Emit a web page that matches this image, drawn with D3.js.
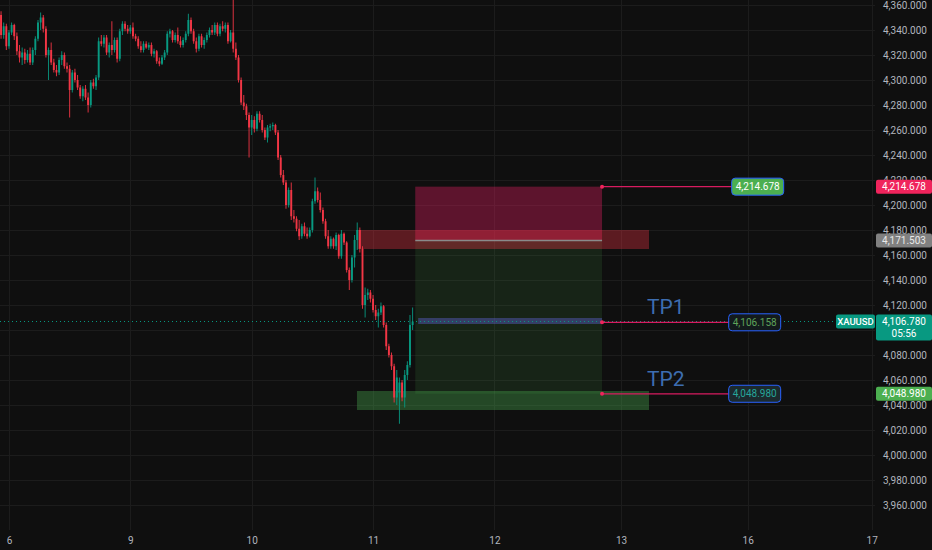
<!DOCTYPE html>
<html>
<head>
<meta charset="utf-8">
<script src="https://d3js.org/d3.v7.min.js"></script>
<style>
  html, body { margin: 0; padding: 0; background: #0f0f0f; }
  svg { display: block; font-family: Roboto, "Liberation Sans", sans-serif; }
</style>
</head>
<body>
<div id="chart"></div>
<script>
// 30 minute bars, [open, high, low, close]
var candles = [
  [4352,4355,4333,4336],[4336,4346,4333,4343],[4343,4345,4324,4327],[4327,4340,4325,4338],
  [4338,4346,4336,4344],[4344,4345,4332,4335],[4335,4338,4320,4323],[4323,4328,4314,4318],
  [4318,4326,4312,4322],[4322,4325,4313,4316],[4316,4324,4314,4321],[4321,4326,4312,4314],
  [4314,4326,4312,4324],[4324,4335,4320,4333],[4333,4348,4331,4346],[4346,4354,4340,4350],
  [4350,4352,4338,4341],[4341,4343,4318,4320],[4320,4326,4300,4324],[4324,4330,4312,4314],
  [4314,4317,4306,4308],[4308,4312,4303,4306],[4306,4318,4304,4316],[4316,4323,4312,4320],
  [4320,4322,4309,4311],[4311,4314,4306,4309],[4309,4312,4270,4292],[4292,4308,4290,4306],
  [4306,4309,4298,4300],[4300,4304,4292,4294],[4294,4296,4285,4287],[4287,4295,4283,4293],
  [4293,4296,4284,4286],[4286,4290,4274,4280],[4280,4300,4278,4298],[4298,4301,4293,4295],
  [4295,4304,4292,4302],[4302,4334,4300,4331],[4331,4336,4327,4329],[4329,4336,4326,4334],
  [4334,4336,4320,4322],[4322,4330,4318,4328],[4328,4347,4320,4324],[4324,4334,4322,4332],
  [4332,4334,4314,4317],[4317,4341,4315,4339],[4339,4347,4336,4345],[4345,4347,4339,4341],
  [4341,4344,4337,4339],[4339,4344,4337,4342],[4342,4346,4333,4335],[4335,4337,4331,4333],
  [4333,4335,4325,4327],[4327,4331,4322,4324],[4324,4331,4322,4329],[4329,4331,4325,4326],
  [4326,4330,4324,4328],[4328,4330,4319,4321],[4321,4325,4318,4323],[4323,4324,4313,4315],
  [4315,4318,4311,4313],[4313,4320,4312,4318],[4318,4324,4316,4322],[4322,4339,4320,4337],
  [4337,4341,4334,4339],[4339,4340,4330,4332],[4332,4338,4330,4336],[4336,4342,4329,4331],
  [4331,4335,4326,4328],[4328,4334,4326,4332],[4332,4339,4330,4337],[4337,4353,4335,4348],
  [4348,4350,4337,4339],[4339,4341,4329,4331],[4331,4334,4322,4325],[4325,4337,4323,4335],
  [4335,4337,4326,4328],[4328,4334,4325,4332],[4332,4338,4330,4336],[4336,4342,4334,4340],
  [4340,4344,4336,4338],[4338,4346,4336,4344],[4344,4346,4335,4337],[4337,4345,4335,4343],
  [4343,4347,4339,4341],[4341,4346,4338,4344],[4344,4346,4329,4331],[4331,4340,4330,4338],
  [4338,4368,4322,4325],[4325,4330,4316,4318],[4318,4320,4298,4300],[4300,4302,4280,4282],
  [4282,4288,4276,4279],[4279,4281,4268,4272],[4272,4274,4238,4262],[4262,4272,4256,4268],
  [4268,4271,4258,4261],[4261,4275,4259,4273],[4273,4275,4266,4268],[4268,4272,4258,4260],
  [4260,4262,4252,4254],[4254,4264,4250,4262],[4262,4265,4259,4263],[4263,4266,4260,4264],
  [4264,4265,4256,4258],[4258,4260,4236,4238],[4238,4240,4222,4224],[4224,4228,4216,4218],
  [4218,4220,4197,4200],[4200,4214,4198,4212],[4212,4218,4188,4191],[4191,4196,4186,4189],
  [4189,4191,4179,4181],[4181,4188,4172,4175],[4175,4185,4173,4183],[4183,4186,4175,4177],
  [4177,4182,4173,4175],[4175,4182,4174,4180],[4180,4205,4178,4203],[4203,4222,4201,4211],
  [4211,4214,4202,4204],[4204,4210,4194,4196],[4196,4198,4185,4187],[4187,4189,4173,4175],
  [4175,4180,4165,4167],[4167,4175,4165,4173],[4173,4174,4165,4167],[4167,4178,4164,4176],
  [4176,4177,4157,4159],[4159,4180,4157,4177],[4177,4178,4168,4170],[4170,4171,4146,4148],
  [4148,4150,4132,4140],[4140,4160,4138,4158],[4158,4176,4150,4172],[4172,4186,4164,4180],
  [4180,4182,4162,4165],[4165,4167,4117,4120],[4120,4134,4110,4128],[4128,4133,4124,4130],
  [4130,4132,4122,4125],[4125,4128,4114,4116],[4116,4120,4108,4111],[4111,4117,4102,4114],
  [4114,4122,4112,4119],[4119,4120,4102,4104],[4104,4106,4084,4087],[4087,4089,4078,4080],
  [4080,4082,4068,4071],[4071,4073,4042,4046],[4046,4068,4040,4062],[4050,4062,4025,4058],
  [4058,4060,4043,4046],[4046,4068,4038,4064],[4064,4075,4060,4072],[4072,4112,4070,4104],
  [4104,4118,4100,4106.78]
];

// session starts (bar index) and their labels
var dayLabels = ["6", "9", "10", "11", "12", "13", "16", "17"];
var dayBars = [3, 49, 95, 141, 187, 235, 283, 330];

// 4,100 sits under the last price tag, so it is not listed
var priceTicks = [3960, 3980, 4000, 4020, 4040, 4060, 4080, 4120, 4140, 4160,
  4180, 4200, 4220, 4240, 4260, 4280, 4300, 4320, 4340, 4360];
var gridPrices = [3960, 3980, 4000, 4020, 4040, 4060, 4080, 4100, 4120, 4140, 4160,
  4180, 4200, 4220, 4240, 4260, 4280, 4300, 4320, 4340, 4360];

var symbol = "XAUUSD";
var lastPrice = 4106.780;
var countdown = "05:56";
var stopPrice = 4214.678;
var entryPrice = 4171.503;
var tp1Price = 4106.158;
var tp2Price = 4048.980;

// drawn zones: [fromBar, toBar, topPrice, bottomPrice]
var supplyZone = [134.9, 245.6, 4180.0, 4164.8];
var tp2Zone = [134.9, 245.6, 4051.2, 4036.0];
var tp1Band = [158.1, 227.8, 4109.6, 4104.8];
var positionBars = [157.0, 227.8];
var labelBar = 275.8;
var tagBar = 244.8;

var W = 932, H = 550, plotRight = 875;
var up = "#089981", down = "#f23645";

var x = d3.scaleLinear().domain([-0.4, 330.5]).range([0, 873]);
var y = d3.scaleLinear().domain([3960, 4360]).range([505, 5]);
var fmt = d3.format(",.3f");

var svg = d3.select("#chart").append("svg")
  .attr("width", W)
  .attr("height", H);

svg.append("rect").attr("width", W).attr("height", H).attr("fill", "#0f0f0f");

// grid
svg.append("g").selectAll("line")
  .data(gridPrices)
  .enter().append("line")
  .attr("x1", 0).attr("x2", plotRight)
  .attr("y1", function(d) { return Math.round(y(d)) + 0.5; })
  .attr("y2", function(d) { return Math.round(y(d)) + 0.5; })
  .attr("stroke", "#1c1c1c");

svg.append("g").selectAll("line")
  .data(dayBars)
  .enter().append("line")
  .attr("x1", function(d) { return Math.round(x(d)) + 0.5; })
  .attr("x2", function(d) { return Math.round(x(d)) + 0.5; })
  .attr("y1", 0).attr("y2", 530)
  .attr("stroke", "#1c1c1c");

// zones and position tool
function zoneRect(z, fill) {
  svg.append("rect")
    .attr("x", x(z[0]))
    .attr("width", x(z[1]) - x(z[0]))
    .attr("y", y(z[2]))
    .attr("height", y(z[3]) - y(z[2]))
    .attr("fill", fill);
}

zoneRect([positionBars[0], positionBars[1], entryPrice, tp2Price], "rgba(76,175,80,0.13)");
zoneRect([positionBars[0], positionBars[1], stopPrice, entryPrice], "rgba(233,30,99,0.36)");
zoneRect(supplyZone, "rgba(242,54,69,0.34)");
zoneRect(tp2Zone, "rgba(76,175,80,0.36)");
zoneRect(tp1Band, "rgba(92,96,200,0.45)");

svg.append("line")
  .attr("x1", x(positionBars[0])).attr("x2", x(positionBars[1]))
  .attr("y1", y(entryPrice)).attr("y2", y(entryPrice))
  .attr("stroke", "#8a8a8a").attr("stroke-width", 1.5);

// candles
var bw = (x(1) - x(0)) * 0.72;
var candle = svg.append("g").selectAll("g")
  .data(candles)
  .enter().append("g");

candle.append("line")
  .attr("x1", function(d, i) { return x(i); })
  .attr("x2", function(d, i) { return x(i); })
  .attr("y1", function(d) { return y(d[1]); })
  .attr("y2", function(d) { return y(d[2]); })
  .attr("stroke", function(d) { return d[3] >= d[0] ? up : down; })
  .attr("stroke-width", 0.9);

candle.append("rect")
  .attr("x", function(d, i) { return x(i) - bw / 2; })
  .attr("width", bw)
  .attr("y", function(d) { return y(Math.max(d[0], d[3])); })
  .attr("height", function(d) { return Math.max(1, Math.abs(y(d[0]) - y(d[3]))); })
  .attr("fill", function(d) { return d[3] >= d[0] ? up : down; });

// last price line
svg.append("line")
  .attr("x1", 0).attr("x2", 836)
  .attr("y1", y(lastPrice)).attr("y2", y(lastPrice))
  .attr("stroke", up)
  .attr("stroke-dasharray", "1,3");

// level lines to their labels
var levels = [
  {price: stopPrice, fill: "#4caf50", text: "#ffffff", lx: x(labelBar) + 3},
  {price: tp1Price, fill: "#131a1c", text: "#5fa35a", lx: x(labelBar)},
  {price: tp2Price, fill: "#1c2a2e", text: "#26a69a", lx: x(labelBar)}
];

levels.forEach(function(l) {
  var yy = y(l.price);
  svg.append("line")
    .attr("x1", x(positionBars[1])).attr("x2", l.lx)
    .attr("y1", yy).attr("y2", yy)
    .attr("stroke", "#d81b60").attr("stroke-width", 1.2);
  svg.append("circle")
    .attr("cx", x(positionBars[1])).attr("cy", yy).attr("r", 2)
    .attr("fill", "#f0245c");
  svg.append("rect")
    .attr("x", l.lx).attr("y", yy - 8.5)
    .attr("width", 52).attr("height", 17).attr("rx", 3.5)
    .attr("fill", l.fill)
    .attr("stroke", "#2962ff").attr("stroke-width", 1);
  svg.append("text")
    .attr("x", l.lx + 26).attr("y", yy)
    .attr("dy", "0.35em")
    .attr("text-anchor", "middle")
    .attr("font-size", 10)
    .attr("fill", l.text)
    .text(fmt(l.price));
});

// TP tags
[["TP1", tp1Price], ["TP2", tp2Price]].forEach(function(t) {
  svg.append("text")
    .attr("x", x(tagBar))
    .attr("y", y(t[1]) - 8)
    .attr("font-size", 21)
    .attr("fill", "#3d6db0")
    .text(t[0]);
});

// price axis
var yAxis = svg.append("g")
  .attr("transform", "translate(" + plotRight + ",0)")
  .call(d3.axisRight(y).tickValues(priceTicks).tickSize(0).tickPadding(8).tickFormat(fmt));
yAxis.select(".domain").remove();
yAxis.selectAll("text").attr("fill", "#b2b5be").attr("font-size", 10)
  .attr("font-family", "Roboto, sans-serif");

// time axis
var xAxis = svg.append("g")
  .attr("transform", "translate(0,530)")
  .call(d3.axisBottom(x).tickValues(dayBars).tickSize(0).tickPadding(7)
    .tickFormat(function(d, i) { return dayLabels[i]; }));
xAxis.select(".domain").remove();
xAxis.selectAll("text").attr("fill", "#b2b5be").attr("font-size", 10)
  .attr("font-family", "Roboto, sans-serif");

// price axis tags
function axisTag(price, fill, lines, color) {
  var h = lines.length > 1 ? 26 : 14;
  var yy = y(price);
  svg.append("rect")
    .attr("x", plotRight + 1).attr("y", yy - 7)
    .attr("width", W - plotRight - 1).attr("height", h)
    .attr("rx", 2)
    .attr("fill", fill);
  lines.forEach(function(t, i) {
    svg.append("text")
      .attr("x", plotRight + 29).attr("y", yy + i * 12)
      .attr("dy", "0.35em")
      .attr("text-anchor", "middle")
      .attr("font-size", 10)
      .attr("fill", color || "#ffffff")
      .text(t);
  });
}

axisTag(stopPrice, "#f0245c", [fmt(stopPrice)]);
axisTag(entryPrice, "#808080", [fmt(entryPrice)], "#e8e8e8");
axisTag(lastPrice, up, [fmt(lastPrice), countdown]);
axisTag(tp2Price, "#4caf50", [fmt(tp2Price)]);

svg.append("rect")
  .attr("x", 836).attr("y", y(lastPrice) - 7)
  .attr("width", 39).attr("height", 14).attr("rx", 2)
  .attr("fill", up);
svg.append("text")
  .attr("x", 855.5).attr("y", y(lastPrice))
  .attr("dy", "0.35em")
  .attr("text-anchor", "middle")
  .attr("font-size", 9.5)
  .attr("font-weight", 500)
  .attr("fill", "#ffffff")
  .text(symbol);
</script>
</body>
</html>
